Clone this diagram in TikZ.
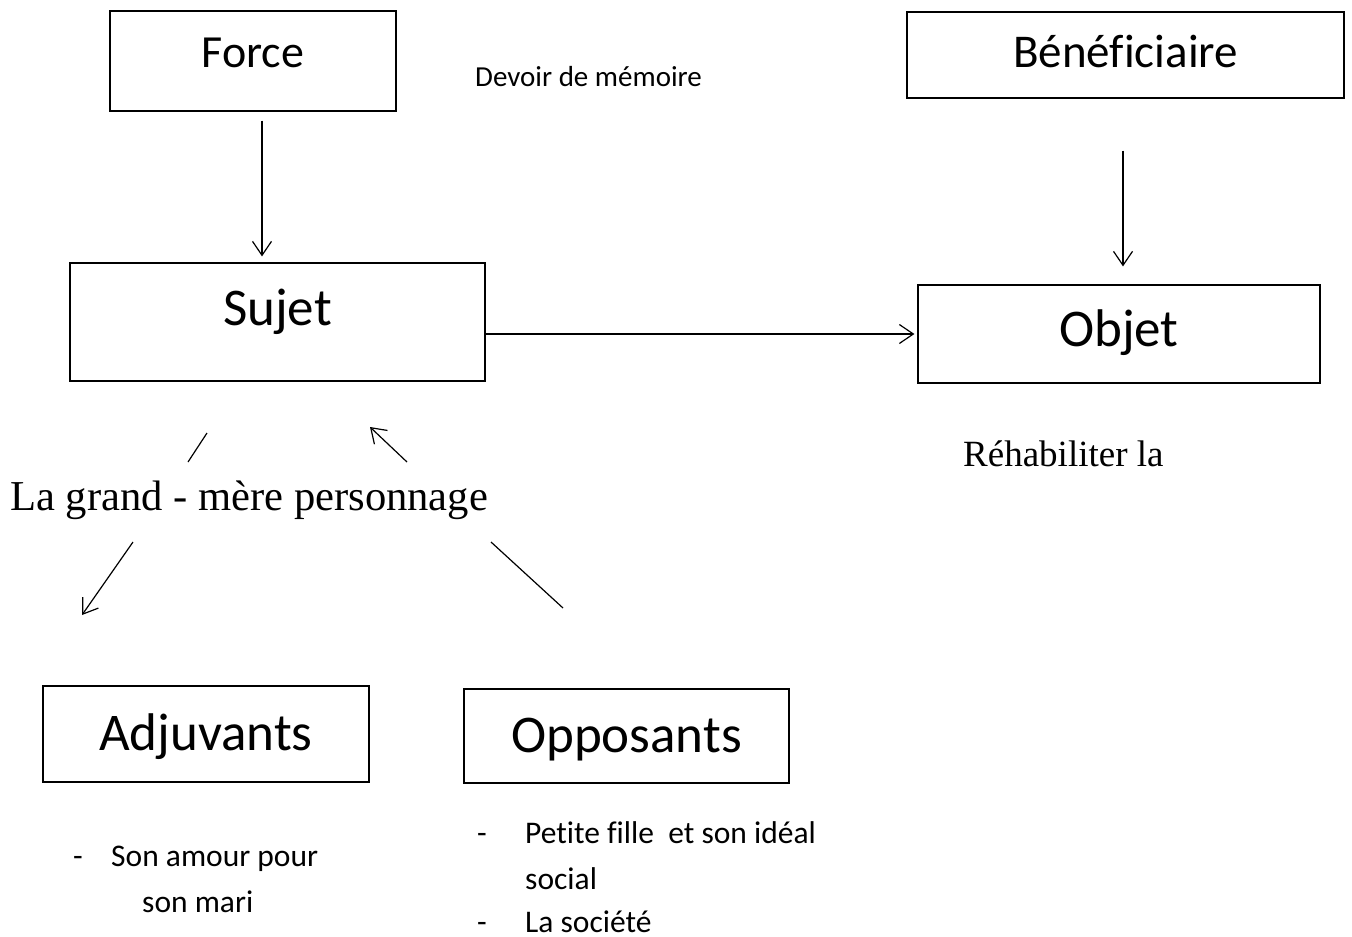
\documentclass[tikz,border=0pt]{standalone}
\usepackage{fontspec}
\setmainfont{Carlito}[Ligatures=CommonOff]
\newfontfamily\timesfont{Liberation Serif}
\usetikzlibrary{arrows.meta, positioning, calc}
\tikzstyle{actant} = [rectangle, draw=black, line width=1.2pt, inner sep=0pt, align=center, font=\fontsize{53}{60}\selectfont]
\tikzstyle{note} = [inner sep=0pt, anchor=base west, font=\fontsize{31.5}{38}\selectfont]
\tikzstyle{serif} = [inner sep=0pt, anchor=base west]
\tikzstyle{arrow} = [line width=1.2pt, -{Straight Barb[length=14pt, width=19pt, line width=1.2pt]}]
\tikzstyle{plain} = [line width=1.2pt]

\begin{document}
\begin{tikzpicture}[x=1pt, y=-1pt]
        \useasboundingbox (0,0) rectangle (1352,937);

        % Boxes (Top)
        \node (force) [actant, anchor=base, text width=286pt, text height=56pt, text depth=44pt, font=\fontsize{46}{54}\selectfont] at (253,67) {Force};
        \node (benef) [actant, anchor=base, text width=437pt, text height=55pt, text depth=31pt, font=\fontsize{47}{54}\selectfont] at (1125.5,67) {Bénéficiaire};
        \node (devoir) [note, font=\fontsize{29}{35}\selectfont] at (475,86) {Devoir de mémoire};

        % Boxes (Middle)
        \node (sujet) [actant, anchor=base, text width=415pt, text height=62pt, text depth=56pt] at (277.5,325) {Sujet};
        \node (objet) [actant, anchor=base, text width=402pt, text height=61pt, text depth=37pt] at (1119,346) {Objet};
        \node (rehab) [serif, font=\timesfont\fontsize{37}{44}\selectfont] at (963,466) {Réhabiliter la};
        \node (gm) [serif, font=\timesfont\fontsize{42.6}{50}\selectfont] at (10,510) {La grand - mère personnage};

        % Boxes (Bottom)
        \node (adjuv) [actant, anchor=base, text width=326pt, text height=64pt, text depth=32pt] at (206,750) {Adjuvants};
        \node (oppos) [actant, anchor=base, text width=325pt, text height=63pt, text depth=31pt] at (626.5,752) {Opposants};

        % Lists
        \node (adjdash) [note] at (73,866) {-};
        \node (adjone) [note] at (111,866) {Son amour pour};
        \node (adjtwo) [note] at (142,912) {son mari};
        \node (oppdash) [note] at (477,843) {-};
        \node (oppone) [note] at (525,843) {Petite fille\ \ et son idéal};
        \node (opptwo) [note] at (525,889) {social};
        \node (oppdashb) [note] at (477,932) {-};
        \node (oppthree) [note] at (525,932) {La société};

        % Free ends round the grand-mother
        \coordinate (la) at (207,433);
        \coordinate (lb) at (188,462);
        \coordinate (ra) at (407,462);
        \coordinate (rb) at (370,427);
        \coordinate (da) at (133,542);
        \coordinate (db) at (82,615);
        \coordinate (ea) at (491,542);
        \coordinate (eb) at (563,608);

        % Arrows
        \draw [arrow, shorten <=9pt, shorten >=6pt] ([xshift=9pt]force.south) -- ([xshift=9pt]force.south |- sujet.north);
        \draw [arrow, shorten <=52pt, shorten >=18pt] ([xshift=-2.5pt]benef.south) -- ([xshift=-2.5pt]benef.south |- objet.north);
        \draw [arrow, shorten >=3pt] (sujet.east |- objet.west) -- (objet.west);

        \draw [plain] (la) -- (lb);
        \draw [arrow] (ra) -- (rb);
        \draw [arrow] (da) -- (db);
        \draw [plain] (ea) -- (eb);

    \end{tikzpicture}
\end{document}
